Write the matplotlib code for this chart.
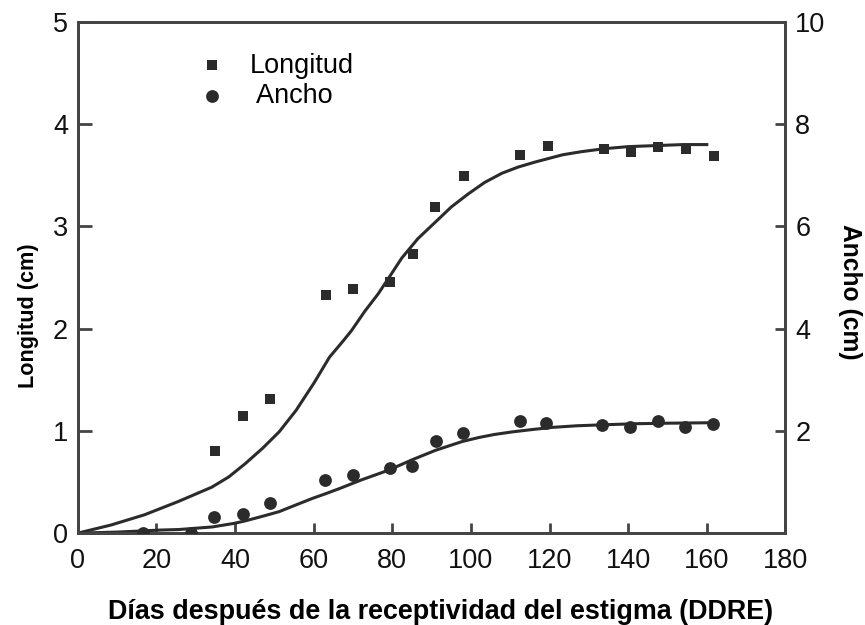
import matplotlib
matplotlib.use("Agg")
import matplotlib.pyplot as plt

# measured points
longitud_x = [34.9, 41.9, 48.9, 63.2, 70.1, 79.3, 85.2, 90.9, 98.3, 112.4, 119.5, 133.8, 140.7, 147.7, 154.6, 161.8]
longitud_y = [0.80, 1.15, 1.31, 2.33, 2.39, 2.46, 2.73, 3.19, 3.49, 3.70, 3.79, 3.76, 3.73, 3.78, 3.76, 3.69]

ancho_x = [16.7, 28.8, 34.6, 41.9, 48.9, 62.9, 70.0, 79.4, 84.9, 91.0, 98.1, 112.4, 119.2, 133.3, 140.5, 147.5, 154.4, 161.5]
ancho_y = [0.0, 0.0, 0.31, 0.38, 0.58, 1.04, 1.13, 1.27, 1.32, 1.80, 1.96, 2.20, 2.16, 2.11, 2.08, 2.19, 2.07, 2.14]

# fitted curves
fit_long_x = [0, 8.5, 17, 25.6, 34.1, 38.4, 42.6, 47, 51.2, 55.5, 60.1, 64, 67.5, 69.6, 73, 76.4, 79.5,
              82.4, 86.5, 90.9, 95, 99.4, 103.5, 107.9, 112, 116.4, 123.3, 128, 134, 140, 147, 154, 160]
fit_long_y = [0, 0.08, 0.18, 0.31, 0.45, 0.55, 0.68, 0.83, 0.99, 1.20, 1.47, 1.72, 1.88, 1.98, 2.17, 2.34, 2.52,
              2.69, 2.88, 3.04, 3.19, 3.32, 3.43, 3.52, 3.58, 3.63, 3.70, 3.73, 3.76, 3.78, 3.79, 3.80, 3.80]

fit_ancho_x = [0, 10, 21, 25.6, 34.1, 39.7, 42.6, 47, 51.2, 55.1, 59.7, 63, 66.5, 72.1, 79, 84.9,
               91, 97.7, 102, 106, 110.5, 116, 121, 127, 134, 142, 150, 162]
fit_ancho_y = [0, 0.02, 0.06, 0.07, 0.12, 0.19, 0.24, 0.33, 0.42, 0.54, 0.68, 0.77, 0.87, 1.04, 1.23, 1.43,
               1.62, 1.79, 1.87, 1.93, 1.98, 2.03, 2.07, 2.10, 2.12, 2.14, 2.15, 2.16]

x_ticks = [0, 20, 40, 60, 80, 100, 120, 140, 160, 180]
left_ticks = [0, 1, 2, 3, 4, 5]
right_ticks = [2, 4, 6, 8, 10]

INK = "#2b2b2b"
SPINE = "#444444"
SANS = ["Liberation Sans", "DejaVu Sans"]

fig = plt.figure(figsize=(8.65, 6.25), dpi=100)
ax = fig.add_axes([0.090, 0.147, 0.818, 0.818])
ax2 = ax.twinx()

ax.plot(fit_long_x, fit_long_y, color=INK, lw=2.2, zorder=2, solid_joinstyle="round")
sq = ax.scatter(longitud_x, longitud_y, marker="s", s=52, color=INK, linewidths=0, zorder=3)
ax2.plot(fit_ancho_x, fit_ancho_y, color=INK, lw=2.2, zorder=2, solid_joinstyle="round")
ci = ax2.scatter(ancho_x, ancho_y, marker="o", s=85, color=INK, linewidths=0, zorder=3)

ax.set_xlim(0, 180)
ax.set_ylim(0, 5)
ax2.set_ylim(0, 10)
ax.set_xticks(x_ticks)
ax.set_yticks(left_ticks)
ax2.set_yticks(right_ticks)

for a in (ax, ax2):
    for sp in a.spines.values():
        sp.set_linewidth(2.0)
        sp.set_color(SPINE)

ax.tick_params(axis="x", direction="in", length=7, width=2, color=SPINE, pad=11)
ax.tick_params(axis="y", direction="in", length=10, width=2, color=SPINE, pad=7)
ax2.tick_params(axis="y", direction="in", length=7, width=2, color=SPINE, pad=7)

for lab in ax.get_xticklabels() + ax.get_yticklabels() + ax2.get_yticklabels():
    lab.set_family(SANS)
    lab.set_fontsize(19.5)
    lab.set_color("#111111")

ax.set_xlabel("Días después de la receptividad del estigma (DDRE)", family=SANS,
              fontsize=19.4, fontweight="bold", labelpad=18)
ax.xaxis.label.set_x(0.513)
ax.set_ylabel("Longitud (cm)", family=SANS, fontsize=15.6, fontweight="bold", labelpad=10)
ax.yaxis.label.set_y(0.425)
ax2.set_ylabel("Ancho (cm)", family=SANS, fontsize=17.7, fontweight="bold", rotation=-90,
               labelpad=26)
ax2.yaxis.label.set_y(0.472)

leg = ax2.legend([sq, ci], ["Longitud", " Ancho"], loc="upper left",
                 bbox_to_anchor=(0.170, 0.940), frameon=False, borderpad=0, borderaxespad=0,
                 prop={"family": SANS, "size": 19.5}, handlelength=1.0, handletextpad=0.9,
                 labelspacing=0.15, scatterpoints=1)

fig.savefig("out.png", dpi=100)
